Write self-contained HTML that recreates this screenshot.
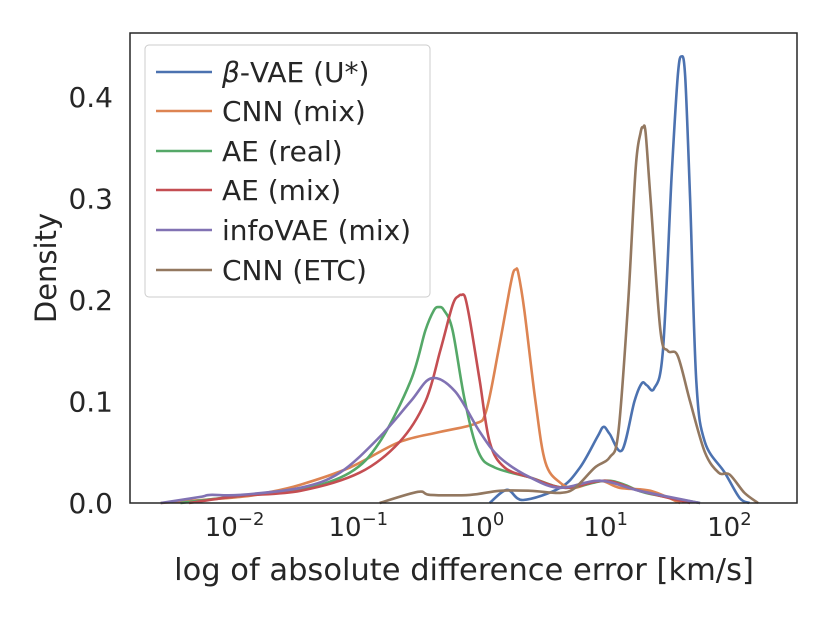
<!DOCTYPE html>
<html><head><meta charset="utf-8"><style>
body{margin:0;background:#fff;}
text{font-family:"DejaVu Sans","Liberation Sans",sans-serif;fill:#262626;}
</style></head><body>
<svg width="830" height="623" viewBox="0 0 830 623">
<g id="plot"></g>
<rect x="130" y="33" width="667" height="470" fill="none" stroke="#262626" stroke-width="1.5"/>
<g id="ticks"></g>
<text x="464" y="580" font-size="30.5" text-anchor="middle">log of absolute difference error [km/s]</text>
<text transform="translate(56,268) rotate(-90)" font-size="29" text-anchor="middle">Density</text>
<g id="legend">
<rect x="145" y="45" width="285" height="252" rx="4" fill="#fff" fill-opacity="0.85" stroke="#ccc" stroke-width="1"/>
</g>
</svg>
<script>
const seriesNames=["β-VAE (U*)","CNN (mix)","AE (real)","AE (mix)","infoVAE (mix)","CNN (ETC)"];
const seriesColors=["#4c72b0","#dd8452","#55a868","#c44e52","#8172b3","#937860"];
const xTickExps=[-2,-1,0,1,2];
const yTicks=[0.0,0.1,0.2,0.3,0.4];
const betaX=[0.03,0.17,0.3,0.6,0.76,0.9,0.95,1.0,1.1,1.2,1.26,1.3,1.36,1.43,1.5,1.55,1.58,1.61,1.65,1.7,1.77,1.93,2.05,2.13];
const betaY=[0,0.013,0.003,0.015,0.035,0.065,0.075,0.068,0.052,0.1,0.118,0.116,0.113,0.15,0.32,0.42,0.44,0.42,0.3,0.12,0.06,0.03,0.005,0];
const cnnX=[-2.63,-1.99,-1.78,-1.5,-1.1,-0.7,-0.37,-0.09,0,0.1,0.19,0.22,0.24,0.26,0.31,0.4,0.48,0.6,0.72,0.92,1.08,1.33,1.57];
const cnnY=[0,0.006,0.01,0.018,0.035,0.06,0.07,0.078,0.09,0.15,0.21,0.227,0.23,0.227,0.19,0.1,0.04,0.02,0.015,0.022,0.015,0.012,0];
const aeRealX=[-2.47,-1.99,-1.5,-1.1,-0.86,-0.61,-0.49,-0.42,-0.38,-0.34,-0.27,-0.17,-0.06,0.07,0.36,0.64,0.96,1.12,1.29,1.73];
const aeRealY=[0,0.007,0.013,0.03,0.06,0.12,0.17,0.19,0.193,0.19,0.17,0.1,0.05,0.035,0.025,0.015,0.022,0.018,0.01,0];
const aeMixX=[-2.4,-1.99,-1.5,-1.02,-0.7,-0.49,-0.37,-0.27,-0.22,-0.2,-0.17,-0.13,-0.05,0.03,0.15,0.36,0.64,0.96,1.24,1.65];
const aeMixY=[0,0.007,0.012,0.03,0.06,0.1,0.15,0.195,0.204,0.205,0.203,0.18,0.12,0.06,0.035,0.025,0.015,0.022,0.012,0];
const infoX=[-2.63,-2.31,-2.23,-1.99,-1.5,-1.18,-0.86,-0.61,-0.44,-0.25,-0.05,0.11,0.36,0.6,0.92,1.24,1.73];
const infoY=[0,0.006,0.008,0.008,0.015,0.03,0.065,0.1,0.123,0.11,0.07,0.045,0.025,0.015,0.022,0.012,0];
const etcX=[-0.86,-0.55,-0.45,-0.13,0.11,0.36,0.6,0.72,0.88,1.0,1.07,1.15,1.21,1.25,1.27,1.29,1.33,1.41,1.47,1.55,1.65,1.77,1.88,1.97,2.09,2.2];
const etcY=[0,0.011,0.008,0.008,0.012,0.012,0.01,0.015,0.035,0.045,0.07,0.2,0.33,0.365,0.37,0.365,0.3,0.17,0.15,0.145,0.1,0.05,0.03,0.028,0.01,0];
const allX=[betaX,cnnX,aeRealX,aeMixX,infoX,etcX];
const allY=[betaY,cnnY,aeRealY,aeMixY,infoY,etcY];
const NS="http://www.w3.org/2000/svg";
function xs(l){return 486+l*123.7;}
function ys(v){return 503-v*1015;}
function smooth(p){
 let d="M"+p[0][0]+","+p[0][1];
 for(let i=0;i<p.length-1;i++){
  const p0=p[i-1]||p[i],p1=p[i],p2=p[i+1],p3=p[i+2]||p2;
  const c1=[p1[0]+(p2[0]-p0[0])/6,p1[1]+(p2[1]-p0[1])/6];
  const c2=[p2[0]-(p3[0]-p1[0])/6,p2[1]-(p3[1]-p1[1])/6];
  d+=" C"+c1[0].toFixed(1)+","+c1[1].toFixed(1)+" "+c2[0].toFixed(1)+","+c2[1].toFixed(1)+" "+p2[0].toFixed(1)+","+p2[1].toFixed(1);
 }
 return d;
}
const plot=document.getElementById("plot");
[0,1,2,3,4,5].forEach(k=>{
 const pts=allX[k].map((x,i)=>[xs(x),ys(allY[k][i])]);
 const path=document.createElementNS(NS,"path");
 path.setAttribute("d",smooth(pts));
 path.setAttribute("fill","none");
 path.setAttribute("stroke",seriesColors[k]);
 path.setAttribute("stroke-width","2.6");
 path.setAttribute("stroke-linejoin","round");
 
 
 plot.appendChild(path);
});
const ticks=document.getElementById("ticks");
xTickExps.forEach(e=>{
 const t=document.createElementNS(NS,"text");
 t.setAttribute("x",xs(e)-4);t.setAttribute("y",536);
 t.setAttribute("font-size","26");t.setAttribute("text-anchor","middle");
 
 
 t.innerHTML='10<tspan font-size="18" dy="-11">'+(e<0?"−"+(-e):e)+'</tspan>';
 ticks.appendChild(t);
});
yTicks.forEach(v=>{
 const t=document.createElementNS(NS,"text");
 t.setAttribute("x",113);t.setAttribute("y",ys(v)+10);
 t.setAttribute("font-size","28");t.setAttribute("text-anchor","end");
 
 
 t.textContent=v.toFixed(1);
 ticks.appendChild(t);
});
const leg=document.getElementById("legend");
const ly=[72,111,151,190,230,270];
seriesNames.forEach((n,i)=>{
 const l=document.createElementNS(NS,"line");
 l.setAttribute("x1",156);l.setAttribute("x2",212);l.setAttribute("y1",ly[i]);l.setAttribute("y2",ly[i]);
 l.setAttribute("stroke",seriesColors[i]);l.setAttribute("stroke-width","2.6");
 
 
 leg.appendChild(l);
 const t=document.createElementNS(NS,"text");
 t.setAttribute("x",222);t.setAttribute("y",ly[i]+10);t.setAttribute("font-size","28");
 
 
 if(i===0){t.innerHTML='<tspan font-style="italic">β</tspan>-VAE (U*)';}else t.textContent=n;
 leg.appendChild(t);
});
</script>
</body></html>
